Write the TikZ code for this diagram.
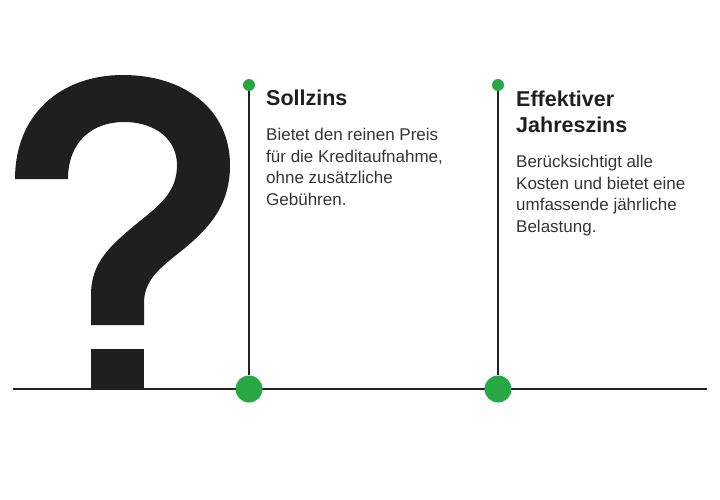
\documentclass[tikz,border=0pt]{standalone}
\usepackage{fontspec}
\setmainfont{Liberation Sans}
\definecolor{ink}{RGB}{31,31,31}
\definecolor{linec}{RGB}{34,34,34}
\definecolor{grn}{RGB}{40,167,69}
\begin{document}
\begin{tikzpicture}[x=1pt,y=-1pt,
  dotbig/.style={circle,fill=grn,minimum size=27pt,inner sep=0pt},
  dotsmall/.style={circle,fill=grn,minimum size=12pt,inner sep=0pt},
  rule/.style={draw=linec,line width=2pt},
  head/.style={anchor=base west,inner sep=0pt,align=left,font=\fontsize{21.5}{27}\selectfont\bfseries,text=ink},
  body/.style={anchor=base west,inner sep=0pt,align=left,font=\fontsize{17}{21.4}\selectfont,text=ink!90}]
\useasboundingbox (0,0) rectangle (720,500);
% baseline
\coordinate (L) at (13,389);
\coordinate (R) at (707,389);
\draw[rule] (L) -- (R);
% question mark
\fill[ink] (15,179) -- (68,179)
  .. controls (68,142) and (92,122) .. (124,122)
  .. controls (156,122) and (177,140) .. (177,165)
  .. controls (177,190) and (162,203) .. (145,217)
  .. controls (110,245) and (91,262) .. (91,295)
  -- (91,325) -- (144,325) -- (144,303)
  .. controls (144,280) and (160,268) .. (180,252)
  .. controls (210,228) and (230,205) .. (230,165)
  .. controls (230,110) and (185,75) .. (123,75)
  .. controls (60,75) and (15,115) .. (15,179) -- cycle;
\node[fill=ink,minimum width=53pt,minimum height=40pt,inner sep=0pt,anchor=south west] (qdot) at (91,389) {};
% column 1
\node[dotsmall] (s1) at (249,85) {};
\node[dotbig] (b1) at (249,389) {};
\draw[rule] (s1) -- (b1);
\node[head] (h1) at (266,106) {Sollzins};
\node[body] (t1) at (266,205) {Bietet den reinen Preis\\für die Kreditaufnahme,\\ohne zusätzliche\\Gebühren.};
% column 2
\node[dotsmall] (s2) at (498,85) {};
\node[dotbig] (b2) at (498,389) {};
\draw[rule] (s2) -- (b2);
\node[head] (h2) at (516,133) {Effektiver\\Jahreszins};
\node[body] (t2) at (516,232) {Berücksichtigt alle\\Kosten und bietet eine\\umfassende jährliche\\Belastung.};
\end{tikzpicture}
\end{document}
